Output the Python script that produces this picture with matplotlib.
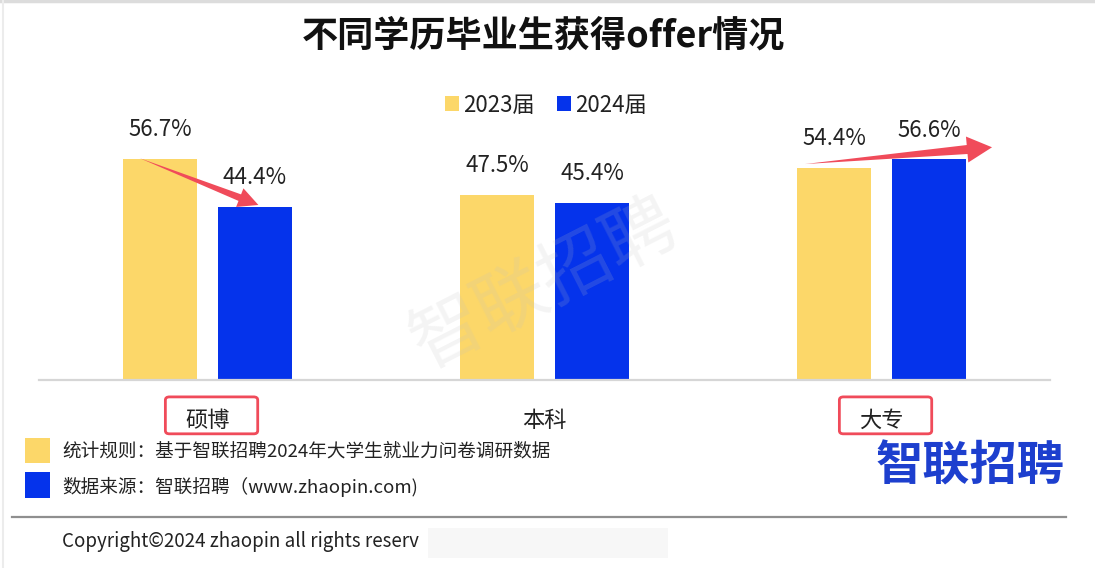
import matplotlib
matplotlib.use('Agg')
import matplotlib.pyplot as plt
import numpy as np
from matplotlib.patches import Rectangle, FancyBboxPatch, Polygon
from matplotlib.transforms import IdentityTransform, blended_transform_factory

plt.rcParams['font.family'] = ['Noto Sans CJK SC', 'DejaVu Sans']

# data
categories = ['硕博', '本科', '大专']
series_names = ['2023届', '2024届']
values_2023 = [56.7, 47.5, 54.4]
values_2024 = [44.4, 45.4, 56.6]
highlighted = ['硕博', '大专']

title = '不同学历毕业生获得offer情况'
note_rule = '统计规则：基于智联招聘2024年大学生就业力问卷调研数据'
note_source = '数据来源：智联招聘（www.zhaopin.com)'
copyright_text = 'Copyright©2024 zhaopin all rights reserv'
brand = '智联招聘'

YELLOW = '#fcd769'
BLUE = '#0533eb'
RED = '#f04b5a'
TEXT = '#222222'

W, H = 1095, 568
fig = plt.figure(figsize=(W / 100, H / 100), dpi=100)
fig.patch.set_facecolor('white')


def fx(px):
    return px / W


def fy(py):
    return 1 - py / H


ax = fig.add_axes([fx(39), fy(380), (1050 - 39) / W, 260 / H])
ax.set_xlim(-0.5, 2.5)
ax.set_ylim(0, 66.7)

x = np.arange(len(categories))
width = 0.222
offset = 0.141
bars_a = ax.bar(x - offset, values_2023, width, color=YELLOW, label=series_names[0], zorder=2)
bars_b = ax.bar(x + offset, values_2024, width, color=BLUE, label=series_names[1], zorder=2)

for bars, vals in ((bars_a, values_2023), (bars_b, values_2024)):
    for b, v in zip(bars, vals):
        ax.annotate(f'{v:.1f}%', (b.get_x() + b.get_width() / 2, v),
                    xytext=(0, 21), textcoords='offset points',
                    ha='center', va='center', fontsize=16, color=TEXT)

for sp in ('top', 'right', 'left'):
    ax.spines[sp].set_visible(False)
ax.spines['bottom'].set_color('#d6d6d6')
ax.spines['bottom'].set_linewidth(1.6)
ax.set_xticks([])
ax.set_yticks([])

# category labels, with red boxes on the highlighted ones
bt = blended_transform_factory(ax.transData, ax.transAxes)
for i, cat in enumerate(categories):
    ax.annotate(cat, (i, 0), xycoords=bt, xytext=(0, -29), textcoords='offset points',
                ha='center', va='center', fontsize=16, color=TEXT)
    if cat in highlighted:
        box = FancyBboxPatch((i - 0.125, -0.207), 0.274, 0.142,
                             boxstyle='round,pad=0,rounding_size=0.012',
                             transform=bt, fill=False, edgecolor=RED, linewidth=2,
                             clip_on=False)
        ax.add_patch(box)

ax.legend(loc='center', bbox_to_anchor=(fx(546), fy(105)), bbox_transform=fig.transFigure,
          ncol=2, frameon=False, fontsize=16, handlelength=0.62, handleheight=0.62,
          handletextpad=0.2, columnspacing=1.0, labelcolor=TEXT)


# red trend arrows (tapered), drawn in display pixels
def tapered_arrow(p0, p1, shaft_w, head_w, head_len):
    p0 = np.asarray(p0, float)
    p1 = np.asarray(p1, float)
    u = (p1 - p0) / np.hypot(*(p1 - p0))
    n = np.array([-u[1], u[0]])
    base = p1 - u * head_len
    pts = [p0, base + n * shaft_w / 2, base + n * head_w / 2, p1,
           base - n * head_w / 2, base - n * shaft_w / 2]
    return Polygon(pts, closed=True, transform=IdentityTransform(),
                   facecolor=RED, edgecolor='none', zorder=5, clip_on=False)


arrow_specs = [
    # category index, tail offset (x, y), tip offset (x, y), sizes
    (0, (-0.06, 0.2), (0.01, 0.5), 7, 20, 20),
    (2, (-0.086, 1.0), (0.187, 3.1), 9, 26, 25),
]
for i, (tdx, tdy), (hdx, hdy), sw, hw, hl in arrow_specs:
    tail = ax.transData.transform((i - offset + tdx, values_2023[i] + tdy))
    tip = ax.transData.transform((i + offset + hdx, values_2024[i] + hdy))
    ax.add_patch(tapered_arrow(tail, tip, sw, hw, hl))

# title
fig.text(fx(543), fy(36), title, ha='center', va='center', fontsize=26,
         fontweight='bold', color='#111111')

# watermark
fig.text(fx(545), fy(285), brand, ha='center', va='center', fontsize=52,
         rotation=27, color='#c0c0c0', alpha=0.17, zorder=10)

# footer notes
fig.add_artist(Rectangle((fx(25), fy(463)), 25 / W, 25 / H, transform=fig.transFigure,
                         facecolor=YELLOW, edgecolor='none'))
fig.add_artist(Rectangle((fx(25), fy(498)), 25 / W, 26 / H, transform=fig.transFigure,
                         facecolor=BLUE, edgecolor='none'))
fig.text(fx(62), fy(451), note_rule, ha='left', va='center', fontsize=13.4, color=TEXT)
fig.text(fx(62), fy(487), note_source, ha='left', va='center', fontsize=13.4, color=TEXT)

fig.text(fx(970), fy(466), brand, ha='center', va='center', fontsize=34,
         fontweight='heavy', color='#1d3fce')

fig.add_artist(plt.Line2D([fx(12), fx(1066)], [fy(517), fy(517)], transform=fig.transFigure,
                          color='#8f8f8f', linewidth=1.6))
fig.text(fx(62), fy(541), copyright_text, ha='left', va='center', fontsize=13.5, color=TEXT)
fig.add_artist(Rectangle((fx(428), fy(558)), 240 / W, 30 / H, transform=fig.transFigure,
                         facecolor='#f4f4f4', edgecolor='none', alpha=0.7))

# faint frame edges
fig.add_artist(plt.Line2D([0, 1], [fy(1), fy(1)], transform=fig.transFigure,
                          color='#dcdcdc', linewidth=2.5))
fig.add_artist(plt.Line2D([fx(3), fx(3)], [0, 1], transform=fig.transFigure,
                          color='#ececec', linewidth=1.5))

fig.savefig('out.png', dpi=100)
